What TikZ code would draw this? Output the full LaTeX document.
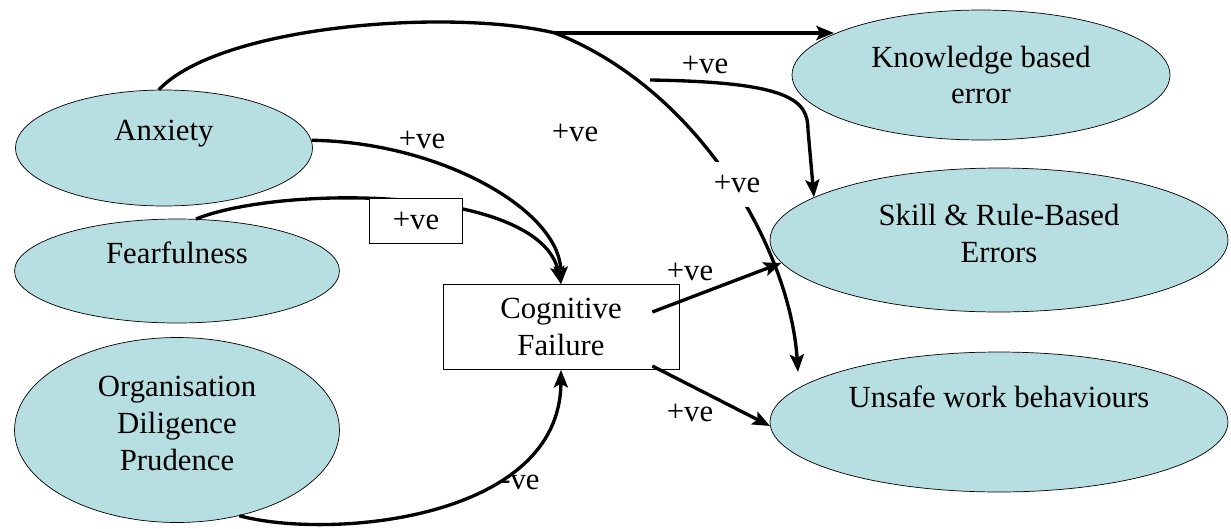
\documentclass[tikz,border=0pt]{standalone}
\usepackage{fontspec}
\setmainfont{Liberation Serif}
\usetikzlibrary{arrows.meta,shapes.geometric,calc}
\definecolor{traitfill}{RGB}{183,222,225}
\newcommand{\fsz}{\fontsize{17.5}{21}\selectfont}
\newcommand{\sgn}[4]{
	\node[sgn] (#1) at (#2,#3) {#4};
	}

\begin{document}
\begin{tikzpicture}[
      x=0.02cm,y=-0.02cm, %one unit is one pixel of the figure
      font=\fsz,
      trait/.style={ellipse,draw,thin,fill=traitfill,align=center,inner sep=0pt},
      factor/.style={draw,thin,fill=white,align=center,inner sep=0pt},
      link/.style={line width=1.9pt,-{Stealth[length=10pt,width=8pt,inset=2pt]}},
      sgn/.style={inner sep=1pt}
    ]
    \useasboundingbox (0,0) rectangle (1231,528);
    % Personality traits
    \node[trait,minimum width=5.94cm,minimum height=2.32cm,text depth=0.7cm] (anx) at (164,148) {Anxiety};
    \node[trait,minimum width=6.5cm,minimum height=2.08cm,text depth=0.72cm] (fear) at (177,271) {Fearfulness};
    \node[trait,minimum width=6.5cm,minimum height=3.7cm,text depth=0.28cm] (org) at (177,430) {Organisation\\Diligence\\Prudence};
    % Outcomes
    \node[trait,minimum width=7.56cm,minimum height=2.6cm] (know) at (981,75) {Knowledge based\\error};
    \node[trait,minimum width=9.16cm,minimum height=2.88cm,text depth=0.28cm] (skill) at (999,240) {Skill \& Rule-Based\\Errors};
    \node[trait,minimum width=9.16cm,minimum height=2.8cm,text depth=1.02cm] (unsafe) at (999,422) {Unsafe work behaviours};
    \node[factor,minimum width=4.72cm,minimum height=1.7cm] (cf) at (561,327) {Cognitive\\Failure};
    % Anxiety to the errors
    \coordinate (split) at (555,33);
    \coordinate (branch) at (650,80);
    \coordinate (knowtip) at (834,33);
    \coordinate (unsafetip) at (798,372);
    \draw[line width=1.9pt] (anx.95) .. controls (220,25) and (450,8) .. (split);
    \draw[link] (split) -- (knowtip);
    \draw[link] (split) .. controls (700,90) and (790,250) .. (unsafetip);
    \draw[link] (branch) .. controls (790,82) and (808,100) .. (808,130) -- (skill.167);
    % Traits to cognitive failure
    \draw[link] (anx.3) .. controls (440,142) and (560,210) .. (cf.north);
    \draw[link] (fear.70) .. controls (280,185) and (540,185) .. (cf.north);
    \draw[link] (org.-54) .. controls (330,540) and (560,520) .. (cf.south);
    % Cognitive failure to the errors
    \draw[link] ($(cf.east)+(-27,-15)$) -- (skill.186);
    \draw[link] ($(cf.east)+(-27,39)$) -- (unsafe.181);
    % Signs of the paths
    \node[factor,minimum width=1.86cm,minimum height=0.9cm] (fearsgn) at (416,221) {+ve};
    \node[sgn,fill=white,minimum height=0.9cm] (unsafesgn) at (737,184) {+ve};
    \sgn{anxsgn}{422}{140}{+ve}
    \sgn{knowsgn}{575}{133}{+ve}
    \sgn{skillsgn}{705}{65}{+ve}
    \sgn{cfskill}{690}{272}{+ve}
    \sgn{cfunsafe}{690}{413}{+ve}
    \sgn{orgsgn}{520}{482}{-ve}
\end{tikzpicture}
\end{document}
